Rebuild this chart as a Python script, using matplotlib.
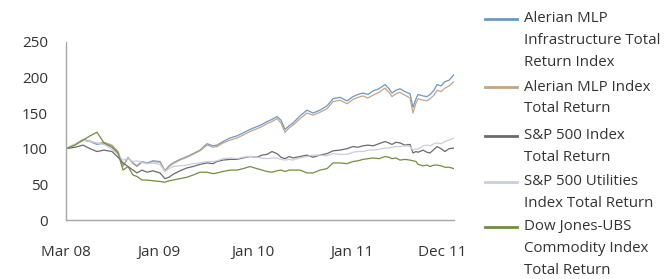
import matplotlib
matplotlib.use("Agg")
import matplotlib.pyplot as plt
from matplotlib.lines import Line2D

plt.rcParams['font.family'] = ['Open Sans', 'DejaVu Sans']

# x positions (months since Mar 08, chart scale)
px = [66, 75, 83, 90, 97, 104, 112, 118, 123, 128, 133, 137, 142, 147, 153, 160, 165, 169, 173, 180,
      187, 193, 200, 207, 213, 217, 223, 230, 237, 243, 250, 257, 262, 267, 272, 277, 281, 285, 289, 293,
      300, 307, 313, 320, 327, 333, 340, 347, 353, 358, 363, 368, 373, 379, 385, 389, 392, 396, 400, 405,
      410, 413, 416, 418, 423, 427, 430, 434, 437, 441, 445, 449, 454]
months = [(p - 66) / 388 * 45 for p in px]

mlp_infra = [100, 106, 112, 110, 106, 108, 104, 95, 76, 87, 80, 76, 82, 80, 83, 82, 69, 76, 80, 85,
             89, 93, 98, 107, 104, 105, 110, 115, 118, 122, 127, 131, 134, 138, 141, 145, 140, 127, 132, 136,
             146, 154, 150, 154, 160, 170, 172, 167, 173, 176, 178, 176, 181, 184, 190, 184, 178, 182, 184, 180,
             177, 158, 170, 176, 174, 173, 176, 182, 190, 188, 194, 196, 204]
mlp_index = [100, 106, 113, 111, 107, 109, 105, 96, 75, 88, 79, 75, 81, 79, 82, 81, 68, 75, 79, 84,
             88, 92, 97, 105, 102, 103, 108, 112, 115, 119, 124, 128, 131, 135, 138, 142, 136, 123, 129, 133,
             142, 150, 147, 151, 156, 166, 168, 163, 169, 172, 174, 171, 175, 179, 185, 179, 173, 177, 179, 175,
             171, 150, 164, 170, 168, 167, 170, 175, 182, 180, 185, 188, 194]
sp500 = [100, 102, 105, 100, 96, 98, 96, 88, 80, 75, 70, 66, 70, 67, 69, 66, 58, 60, 64, 69,
         73, 75, 78, 80, 79, 82, 84, 85, 85, 87, 89, 88, 91, 92, 96, 93, 88, 86, 89, 87,
         89, 91, 88, 91, 93, 97, 98, 100, 103, 102, 104, 105, 104, 107, 110, 108, 106, 109, 108, 105,
         106, 94, 96, 95, 98, 95, 94, 99, 103, 100, 96, 100, 101]
sp500_util = [100, 106, 112, 110, 108, 106, 99, 92, 84, 86, 82, 83, 81, 79, 80, 78, 68, 72, 75, 76,
              77, 79, 80, 82, 82, 83, 86, 87, 86, 88, 89, 88, 87, 86, 87, 87, 85, 84, 85, 84,
              87, 89, 91, 91, 90, 93, 92, 92, 95, 96, 96, 98, 98, 99, 101, 101, 102, 103, 103, 104,
              103, 98, 100, 99, 104, 105, 104, 107, 108, 107, 110, 112, 115]
commodity = [100, 105, 112, 118, 123, 108, 102, 94, 70, 75, 63, 61, 56, 56, 55, 54, 53, 55, 56, 58,
             60, 63, 67, 67, 65, 66, 68, 70, 70, 72, 75, 72, 70, 68, 67, 69, 70, 68, 70, 70,
             70, 66, 66, 70, 72, 80, 80, 79, 82, 83, 85, 86, 87, 86, 89, 88, 86, 87, 84, 85,
             84, 83, 82, 78, 76, 77, 75, 77, 77, 76, 74, 74, 72]

series_labels = ["Alerian MLP\nInfrastructure Total\nReturn Index",
                 "Alerian MLP Index\nTotal Return",
                 "S&P 500 Index\nTotal Return",
                 "S&P 500 Utilities\nIndex Total Return",
                 "Dow Jones-UBS\nCommodity Index\nTotal Return"]
series_values = [mlp_infra, mlp_index, sp500, sp500_util, commodity]
colors = ['#6c97c0', '#c2a588', '#6a6a6a', '#c8cede', '#718d42']

tick_labels = ["Mar 08", "Jan 09", "Jan 10", "Jan 11", "Dec 11"]
tick_px = [66, 159, 253, 352, 442]
tick_pos = [(p - 66) / 388 * 45 for p in tick_px]
y_ticks = [0, 50, 100, 150, 200, 250]

W, H = 669, 279
fig = plt.figure(figsize=(W / 100, H / 100), dpi=100)
ax = fig.add_axes([66 / W, 1 - 220 / H, (454 - 66) / W, (220 - 41.7) / H])

order = [3, 2, 4, 1, 0]
for i in order:
    ax.plot(months, series_values[i], color=colors[i], lw=0.9, zorder=2 + i * 0.1)

ax.set_xlim(0, 45)
ax.set_ylim(0, 250)
ax.set_yticks(y_ticks)
ax.set_yticklabels([str(v) for v in y_ticks])
ax.set_xticks(tick_pos)
ax.set_xticklabels(tick_labels)
ax.tick_params(axis='both', length=0, labelsize=11, colors='#333333')
ax.tick_params(axis='y', pad=13)
ax.tick_params(axis='x', pad=18)
for s in ['top', 'right']:
    ax.spines[s].set_visible(False)
for s in ['left', 'bottom']:
    ax.spines[s].set_color('#a8a8a8')
    ax.spines[s].set_linewidth(1.0)

# legend drawn manually
line_ys = [19, 87.3, 135.7, 181.7, 226.7]
line_step = 21.7
for i, lab in enumerate(series_labels):
    y0 = line_ys[i]
    fig.add_artist(Line2D([485 / W, 517 / W], [1 - y0 / H, 1 - y0 / H],
                          color=colors[i], lw=2.0, transform=fig.transFigure))
    for k, part in enumerate(lab.split("\n")):
        fig.text(524 / W, 1 - (y0 + k * line_step) / H, part, fontsize=10.8,
                 color='#333333', va='center', ha='left')

fig.savefig("out.png", dpi=100)
